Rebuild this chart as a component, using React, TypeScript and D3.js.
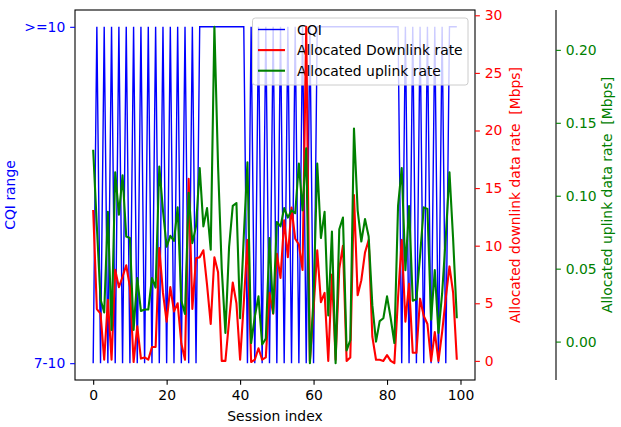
import React, { useEffect, useRef } from 'react';
import * as d3 from 'd3';

// CQI state per session: 0 -> "7-10", 1 -> ">=10"
const cqi = [
  0, 1, 0, 1, 0, 1, 0, 1, 0, 1,
  0, 1, 0, 1, 0, 1, 0, 1, 0, 1,
  0, 1, 0, 1, 0, 1, 0, 1, 0, 1,
  1, 1, 1, 1, 1, 1, 1, 1, 1, 1,
  1, 1, 0, 1, 0, 1, 0, 1, 0, 1,
  0, 1, 0, 1, 0, 1, 0, 1, 0, 1,
  0, 1, 1, 1, 1, 1, 1, 1, 1, 1,
  1, 1, 1, 1, 1, 1, 1, 1, 1, 1,
  1, 1, 1, 1, 0, 1, 0, 1, 0, 1,
  0, 1, 0, 1, 0, 1, 0, 1, 1, 1,
];

const downlink = [
  13.1, 4.5, 4.1, 0.1, 5.3, 0.1, 7.9, 6.4, 7.3, 8.3,
  6.4, -0.1, 3.0, 0.2, 0.3, 0.1, 1.2, 1.2, 9.8, 5.9,
  3.4, 6.4, 4.3, 5.0, 1.5, 0.1, 15.8, 4.5, 8.9, 9.0,
  9.6, 6.6, 3.2, 9.0, 7.7, 0.0, 0.0, 3.5, 6.8, 5.0,
  0.1, 5.0, 10.5, -0.1, 0.1, 1.1, 0.1, 0.3, 5.9, 4.1,
  9.3, 7.2, 12.2, 9.0, 13.3, 10.6, 10.1, 7.9, 29.0, 0.0,
  4.5, 9.6, 5.1, 5.9, 0.0, 7.5, 0.1, 8.0, 10.0, 0.0,
  0.3, 14.4, 5.7, 7.0, 9.4, 10.5, 2.1, 0.1, 0.1, 0.0,
  0.5, 0.0, -0.2, 5.5, 10.5, 3.4, 6.7, 0.7, 0.7, 5.4,
  3.9, 3.2, 0.0, 2.5, 0.0, 2.5, 5.5, 8.2, 5.9, 0.1,
];

const uplink = [
  0.1315, 0.079, 0.029, 0.02, 0.089, 0.008, 0.116, 0.087, 0.114, 0.072,
  0.071, 0.008, 0.0435, 0.021, 0.022, 0.022, 0.0435, 0.037, 0.12, 0.09,
  0.065, 0.0725, 0.069, 0.092, 0.028, 0.019, 0.102, 0.0675, 0.079, 0.119,
  0.079, 0.0915, 0.063, 0.2158, 0.12, 0.05, 0.006, 0.065, 0.093, 0.095,
  0.016, 0.072, 0.123, -0.001, 0.017, 0.031, -0.002, 0.002, 0.071, 0.0195,
  0.082, 0.079, 0.0915, 0.085, 0.09, 0.088, 0.122, 0.09, 0.1326, -0.0148,
  0.03, 0.122, 0.071, 0.089, 0.018, 0.0755, -0.0148, 0.077, 0.085, -0.006,
  0.001, 0.146, 0.09, 0.0686, 0.084, 0.072, 0.025, 0.0, 0.014, 0.016,
  0.031, 0.016, -0.001, 0.093, 0.119, 0.049, 0.093, 0.028, 0.029, 0.059,
  0.092, 0.091, 0.015, 0.049, 0.006, 0.033, 0.072, 0.116, 0.07, 0.016,
];

const sessionTicks = [0, 20, 40, 60, 80, 100];
const cqiTicks = [0, 1];
const cqiTickLabels = ['7-10', '>=10'];
const downlinkTicks = [0, 5, 10, 15, 20, 25, 30];
const uplinkTicks = [0, 0.05, 0.1, 0.15, 0.2];
const legendLabels = ['CQI', 'Allocated Downlink rate', 'Allocated uplink rate'];

const BLUE = '#0000ff';
const RED = '#ff0000';
const GREEN = '#008000';
const FONT = 'DejaVu Sans, sans-serif';
const FS = 13.9;
const TICK = 4.86;

// matplotlib style 5% margins
const padded = (vals: number[]): [number, number] => {
  const [lo, hi] = d3.extent(vals) as [number, number];
  const m = (hi - lo) * 0.05;
  return [lo - m, hi + m];
};

export default function App() {
  const svgRef = useRef<SVGSVGElement>(null);

  useEffect(() => {
    if (!svgRef.current) return;
    const svg = d3.select(svgRef.current);
    svg.selectAll('*').remove();

    const left = 75, right = 475, top = 10, bottom = 380;
    const idx = cqi.map((_, i) => i);

    const x = d3.scaleLinear().domain(padded(idx)).range([left, right]);
    const yC = d3.scaleLinear().domain(padded(cqi)).range([bottom, top]);
    const yD = d3.scaleLinear().domain(padded(downlink)).range([bottom, top]);
    const yU = d3.scaleLinear().domain(padded(uplink)).range([bottom, top]);

    svg.append('clipPath').attr('id', 'plotclip')
      .append('rect').attr('x', left).attr('y', top)
      .attr('width', right - left).attr('height', bottom - top);

    const plot = svg.append('g').attr('clip-path', 'url(#plotclip)');

    // CQI (host axes)
    plot.append('path')
      .datum(cqi)
      .attr('fill', 'none')
      .attr('stroke', BLUE)
      .attr('stroke-width', 1.4)
      .attr('d', d3.line<number>().x((_, i) => x(i)).y(d => yC(d)));

    // legend belongs to host axes, so twin lines go above it
    const lg = svg.append('g');
    lg.append('rect')
      .attr('x', 252.5).attr('y', 18)
      .attr('width', 215.5).attr('height', 67)
      .attr('rx', 2.8)
      .attr('fill', 'white').attr('fill-opacity', 0.8)
      .attr('stroke', '#cccccc').attr('stroke-width', 1);
    const legendColors = [BLUE, RED, GREEN];
    legendLabels.forEach((lab, i) => {
      const cy = 29.5 + i * 20.6;
      lg.append('line')
        .attr('x1', 258).attr('x2', 285).attr('y1', cy).attr('y2', cy)
        .attr('stroke', legendColors[i])
        .attr('stroke-width', i === 0 ? 1.4 : 2.1);
      lg.append('text')
        .attr('x', 297).attr('y', cy + 5)
        .attr('font-family', FONT).attr('font-size', FS)
        .attr('fill', '#000')
        .text(lab);
    });

    const plot2 = svg.append('g').attr('clip-path', 'url(#plotclip)');
    plot2.append('path')
      .datum(downlink)
      .attr('fill', 'none')
      .attr('stroke', RED)
      .attr('stroke-width', 2.1)
      .attr('stroke-linejoin', 'round')
      .attr('d', d3.line<number>().x((_, i) => x(i)).y(d => yD(d)));
    plot2.append('path')
      .datum(uplink)
      .attr('fill', 'none')
      .attr('stroke', GREEN)
      .attr('stroke-width', 2.1)
      .attr('stroke-linejoin', 'round')
      .attr('d', d3.line<number>().x((_, i) => x(i)).y(d => yU(d)));

    // frame
    svg.append('rect')
      .attr('x', left).attr('y', top)
      .attr('width', right - left).attr('height', bottom - top)
      .attr('fill', 'none').attr('stroke', '#000').attr('stroke-width', 1.1);

    const styleAxis = (g: d3.Selection<SVGGElement, unknown, null, undefined>, color: string) => {
      g.attr('font-family', FONT).attr('font-size', FS);
      g.select('.domain').remove();
      g.selectAll('.tick line').attr('stroke', color).attr('stroke-width', 1.1);
      g.selectAll('.tick text').attr('fill', color);
    };

    // x axis
    const gx = svg.append('g').attr('transform', `translate(0,${bottom})`)
      .call(d3.axisBottom(x).tickValues(sessionTicks).tickSize(TICK).tickPadding(TICK).tickFormat(d3.format('d')));
    styleAxis(gx, '#000');

    // left CQI axis
    const gl = svg.append('g').attr('transform', `translate(${left},0)`)
      .call(d3.axisLeft(yC).tickValues(cqiTicks).tickSize(TICK).tickPadding(TICK)
        .tickFormat((d) => cqiTickLabels[cqiTicks.indexOf(+d)]));
    styleAxis(gl, BLUE);

    // right downlink axis
    const gr = svg.append('g').attr('transform', `translate(${right},0)`)
      .call(d3.axisRight(yD).tickValues(downlinkTicks).tickSize(TICK).tickPadding(TICK).tickFormat(d3.format('d')));
    styleAxis(gr, RED);

    // offset uplink axis
    const spineX = 556;
    svg.append('line')
      .attr('x1', spineX).attr('x2', spineX).attr('y1', top).attr('y2', bottom)
      .attr('stroke', '#000').attr('stroke-width', 1.1);
    const gu = svg.append('g').attr('transform', `translate(${spineX},0)`)
      .call(d3.axisRight(yU).tickValues(uplinkTicks).tickSize(TICK).tickPadding(TICK).tickFormat(d3.format('.2f')));
    styleAxis(gu, GREEN);

    // axis titles
    svg.append('text')
      .attr('x', (left + right) / 2).attr('y', 421)
      .attr('text-anchor', 'middle')
      .attr('font-family', FONT).attr('font-size', FS)
      .text('Session index');

    const vTitle = (cx: number, label: string, color: string) => {
      svg.append('text')
        .attr('transform', `translate(${cx},${(top + bottom) / 2}) rotate(-90)`)
        .attr('text-anchor', 'middle')
        .attr('dy', '0.35em')
        .attr('font-family', FONT).attr('font-size', FS)
        .attr('fill', color)
        .style('white-space', 'pre')
        .text(label);
    };
    vTitle(10, 'CQI range', BLUE);
    vTitle(515, 'Allocated downlink data rate  [Mbps]', RED);
    vTitle(607, 'Allocated uplink data rate  [Mbps]', GREEN);
  }, []);

  return (
    <svg
      ref={svgRef}
      width={621}
      height={427}
      style={{ position: 'absolute', left: 0, top: 0, background: '#fff' }}
    />
  );
}
